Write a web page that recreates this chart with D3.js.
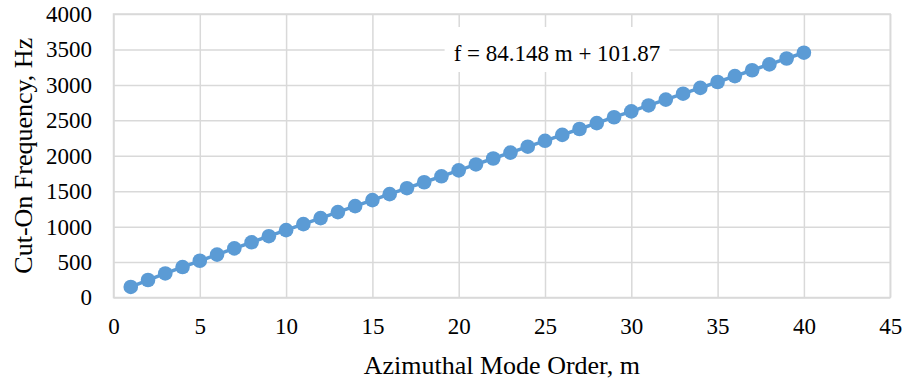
<!DOCTYPE html>
<html>
<head>
<meta charset="utf-8">
<script src="https://cdn.jsdelivr.net/npm/d3@7"></script>
<style>
  html, body { margin: 0; padding: 0; background: #ffffff; }
  svg { display: block; }
</style>
</head>
<body>
<svg id="chart" width="904" height="381"></svg>
<script>
// Azimuthal mode order m and the cut-on frequency of the first radial mode (Hz)
const modeOrder = [1, 2, 3, 4, 5, 6, 7, 8, 9, 10,
                   11, 12, 13, 14, 15, 16, 17, 18, 19, 20,
                   21, 22, 23, 24, 25, 26, 27, 28, 29, 30,
                   31, 32, 33, 34, 35, 36, 37, 38, 39, 40];
const cutOnFreq = [148.7, 246.6, 339.2, 429.3, 518.0, 605.6, 692.5, 778.9, 864.8, 950.3,
                   1035.6, 1120.5, 1205.2, 1289.8, 1374.1, 1458.3, 1542.4, 1626.3, 1710.2, 1793.9,
                   1877.5, 1961.0, 2044.4, 2127.8, 2211.1, 2294.3, 2377.5, 2460.6, 2543.7, 2626.6,
                   2709.6, 2792.5, 2875.4, 2958.2, 3040.9, 3123.7, 3206.4, 3289.0, 3371.7, 3454.3];

const xTicks = [0, 5, 10, 15, 20, 25, 30, 35, 40, 45];
const yTicks = [0, 500, 1000, 1500, 2000, 2500, 3000, 3500, 4000];

// Least-squares linear fit of the series
const fitSlope = 84.148;
const fitIntercept = 101.87;
const fitLabel = "f = " + fitSlope + " m + " + fitIntercept;

const xTitle = "Azimuthal Mode Order, m";
const yTitle = "Cut-On Frequency, Hz";

const points = modeOrder.map((m, i) => ({ m: m, f: cutOnFreq[i] }));

const serif = "Liberation Serif, Times New Roman, Times, serif";

const svg = d3.select("#chart")
  .attr("font-family", serif);
const plot = { left: 113.5, right: 890.2, top: 14, bottom: 297.5 };

const x = d3.scaleLinear().domain([0, 45]).range([plot.left, plot.right]);
const y = d3.scaleLinear().domain([0, 4000]).range([plot.bottom, plot.top]);

const gridColor = "#d9d9d9";
const seriesColor = "#5b9bd5";

svg.append("rect").attr("width", 904).attr("height", 381).attr("fill", "#ffffff");

// Gridlines
const xGrid = svg.append("g")
  .attr("transform", `translate(0,${plot.bottom})`)
  .call(d3.axisBottom(x).tickValues(xTicks).tickSize(-(plot.bottom - plot.top)).tickFormat(""));
const yGrid = svg.append("g")
  .attr("transform", `translate(${plot.left},0)`)
  .call(d3.axisLeft(y).tickValues(yTicks).tickSize(-(plot.right - plot.left)).tickFormat(""));
[xGrid, yGrid].forEach(g => {
  g.select(".domain").remove();
  g.selectAll("line").attr("stroke", gridColor).attr("stroke-width", 1.5);
});

// Plot frame
svg.append("rect")
  .attr("x", plot.left).attr("y", plot.top)
  .attr("width", plot.right - plot.left).attr("height", plot.bottom - plot.top)
  .attr("fill", "none").attr("stroke", gridColor).attr("stroke-width", 1.5);

// Tick labels
const xAxis = svg.append("g")
  .attr("transform", `translate(0,${plot.bottom})`)
  .call(d3.axisBottom(x).tickValues(xTicks).tickSize(0).tickPadding(20.5).tickFormat(d3.format("d")));
const yAxis = svg.append("g")
  .attr("transform", `translate(${plot.left},0)`)
  .call(d3.axisLeft(y).tickValues(yTicks).tickSize(0).tickPadding(21.5).tickFormat(d3.format("d")));
[xAxis, yAxis].forEach(g => {
  g.attr("font-family", serif).attr("font-size", 23);
  g.select(".domain").remove();
  g.selectAll("text").attr("fill", "#000000");
});

// Series line and markers
svg.append("path")
  .datum(points)
  .attr("fill", "none")
  .attr("stroke", seriesColor)
  .attr("stroke-width", 3.5)
  .attr("d", d3.line().x(d => x(d.m)).y(d => y(d.f)));

svg.append("g")
  .selectAll("circle")
  .data(points)
  .join("circle")
  .attr("cx", d => x(d.m))
  .attr("cy", d => y(d.f))
  .attr("r", 7.3)
  .attr("fill", seriesColor);

// Fitted-equation label with its white backing box
const labelX = 557;
const labelBaseline = 61;
const labelGroup = svg.append("g");
const labelBox = labelGroup.append("rect").attr("fill", "#ffffff");
const labelText = labelGroup.append("text")
  .attr("x", labelX).attr("y", labelBaseline)
  .attr("text-anchor", "middle")
  .attr("font-size", 23)
  .attr("fill", "#000000")
  .text(fitLabel);
const bb = labelText.node().getBBox();
labelBox
  .attr("x", bb.x - 9).attr("y", plot.top + 13)
  .attr("width", bb.width + 18).attr("height", 72 - (plot.top + 13));

// Axis titles
svg.append("text")
  .attr("x", (plot.left + plot.right) / 2)
  .attr("y", 374)
  .attr("text-anchor", "middle")
  .attr("font-size", 26)
  .attr("fill", "#000000")
  .text(xTitle);

svg.append("text")
  .attr("transform", `translate(32,${(plot.top + plot.bottom) / 2}) rotate(-90)`)
  .attr("text-anchor", "middle")
  .attr("font-size", 26)
  .attr("fill", "#000000")
  .text(yTitle);
</script>
</body>
</html>
